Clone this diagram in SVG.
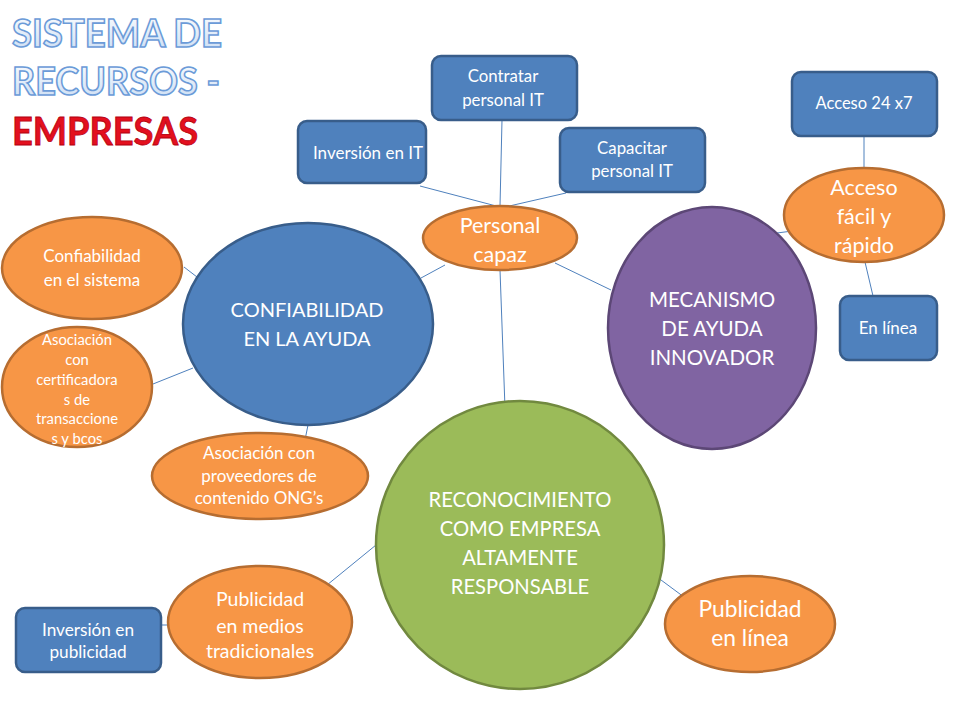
<svg xmlns="http://www.w3.org/2000/svg" width="960" height="720" viewBox="0 0 960 720">
<defs>
<linearGradient id="tg" x1="0" y1="0" x2="0" y2="1">
<stop offset="0" stop-color="#ffffff"/>
<stop offset="1" stop-color="#c9dcf3"/>
</linearGradient>
<style>
text{font-family:Lato,"Open Sans","Liberation Sans",sans-serif;fill:#fff;text-anchor:middle}
.b{fill:#4f81bd;stroke:#385d8a;stroke-width:2.5}
.o{fill:#f79646;stroke:#b66d31;stroke-width:2.5}
.p{fill:#8064a2;stroke:#5c4776;stroke-width:2.5}
.g{fill:#9bbb59;stroke:#71893f;stroke-width:2.5}
.c line{stroke:#4f81bd;stroke-width:1}
.t1{font-family:Lato,"Liberation Sans",sans-serif;font-weight:bold;font-size:38px;text-anchor:start;fill:url(#tg);stroke:#6b9bd8;stroke-width:1.6}
.t2{font-family:Lato,"Liberation Sans",sans-serif;font-weight:bold;font-size:38px;text-anchor:start;fill:#e3101e;stroke:#b50010;stroke-width:0.8}
</style>
</defs>
<rect width="960" height="720" fill="#fff"/>
<g id="title">
<text class="t1" x="12" y="47" textLength="210" lengthAdjust="spacingAndGlyphs">SISTEMA DE</text>
<text class="t1" x="12" y="95" textLength="208" lengthAdjust="spacingAndGlyphs">RECURSOS -</text>
<text class="t2" x="12" y="145" textLength="186" lengthAdjust="spacingAndGlyphs">EMPRESAS</text>
</g>
<g class="c" id="connectors">
<line x1="420" y1="186" x2="500" y2="207"/>
<line x1="502" y1="120" x2="500" y2="206"/>
<line x1="566" y1="193" x2="505" y2="207"/>
<line x1="445" y1="265" x2="421" y2="278"/>
<line x1="555" y1="263" x2="611" y2="290"/>
<line x1="500" y1="270" x2="505" y2="408"/>
<line x1="864" y1="136" x2="864" y2="168"/>
<line x1="777" y1="233" x2="800" y2="230"/>
<line x1="865" y1="262" x2="873" y2="296"/>
<line x1="184" y1="267" x2="197" y2="277"/>
<line x1="153" y1="384" x2="193" y2="368"/>
<line x1="305" y1="440" x2="308" y2="425"/>
<line x1="376" y1="545" x2="327" y2="585"/>
<line x1="168" y1="625" x2="161" y2="625"/>
<line x1="657" y1="577" x2="688" y2="600"/>
</g>
<g id="inversion-it">
<rect class="b" x="298" y="121" width="128" height="62" rx="9"/>
<text x="368" y="159" font-size="17">Inversión en IT</text>
</g>
<g id="contratar">
<rect class="b" x="432" y="56" width="145" height="64" rx="9"/>
<text x="503" y="82" font-size="16.8">Contratar</text>
<text x="503" y="106" font-size="16.8">personal IT</text>
</g>
<g id="capacitar">
<rect class="b" x="560" y="128" width="145" height="64" rx="9"/>
<text x="632" y="154" font-size="16.8">Capacitar</text>
<text x="632" y="177" font-size="16.8">personal IT</text>
</g>
<g id="personal-capaz">
<ellipse class="o" cx="500" cy="238" rx="77" ry="32"/>
<text x="500" y="233" font-size="21.5">Personal</text>
<text x="500" y="262" font-size="21.5">capaz</text>
</g>
<g id="acceso-24x7">
<rect class="b" x="792" y="72" width="145" height="64" rx="9"/>
<text x="864" y="109" font-size="16.5">Acceso 24 x7</text>
</g>
<g id="acceso-facil">
<ellipse class="o" cx="864" cy="215" rx="80" ry="47"/>
<text x="864" y="195" font-size="21.5">Acceso</text>
<text x="864" y="224" font-size="21.5">fácil y</text>
<text x="864" y="253" font-size="21.5">rápido</text>
</g>
<g id="en-linea">
<rect class="b" x="840" y="296" width="97" height="64" rx="9"/>
<text x="888" y="334" font-size="17">En línea</text>
</g>
<g id="mecanismo">
<ellipse class="p" cx="712" cy="328" rx="104" ry="121"/>
<text x="712" y="307" font-size="20.5">MECANISMO</text>
<text x="712" y="336" font-size="20.5">DE AYUDA</text>
<text x="712" y="365" font-size="20.5">INNOVADOR</text>
</g>
<g id="confiabilidad-ayuda">
<ellipse class="b" cx="308" cy="324" rx="125" ry="101"/>
<text x="307" y="317" font-size="20">CONFIABILIDAD</text>
<text x="307" y="346" font-size="20">EN LA AYUDA</text>
</g>
<g id="confiabilidad-sistema">
<ellipse class="o" cx="92" cy="268" rx="90" ry="51"/>
<text x="92" y="262" font-size="17">Confiabilidad</text>
<text x="92" y="286" font-size="17">en el sistema</text>
</g>
<g id="asociacion-certificadoras">
<ellipse class="o" cx="77" cy="387" rx="75" ry="60"/>
<text x="77" y="345" font-size="14.8">Asociación</text>
<text x="77" y="365" font-size="14.8">con</text>
<text x="77" y="385" font-size="14.8">certificadora</text>
<text x="77" y="405" font-size="14.8">s de</text>
<text x="77" y="424" font-size="14.8">transaccione</text>
<text x="77" y="444" font-size="14.8">s y bcos</text>
</g>
<g id="asociacion-proveedores">
<ellipse class="o" cx="260" cy="476" rx="108" ry="43"/>
<text x="259" y="459" font-size="17">Asociación con</text>
<text x="259" y="482" font-size="17">proveedores de</text>
<text x="259" y="504" font-size="17">contenido ONG’s</text>
</g>
<g id="reconocimiento">
<ellipse class="g" cx="520" cy="545" rx="144" ry="144"/>
<text x="520" y="507" font-size="20.2">RECONOCIMIENTO</text>
<text x="520" y="536" font-size="20.2">COMO EMPRESA</text>
<text x="520" y="565" font-size="20.2">ALTAMENTE</text>
<text x="520" y="594" font-size="20.2">RESPONSABLE</text>
</g>
<g id="publicidad-medios">
<ellipse class="o" cx="260" cy="622" rx="92" ry="56"/>
<text x="260" y="606" font-size="19.5">Publicidad</text>
<text x="260" y="633" font-size="19.5">en medios</text>
<text x="260" y="658" font-size="19.5">tradicionales</text>
</g>
<g id="inversion-publicidad">
<rect class="b" x="16" y="608" width="145" height="64" rx="9"/>
<text x="88" y="636" font-size="17.2">Inversión en</text>
<text x="88" y="658" font-size="17.2">publicidad</text>
</g>
<g id="publicidad-linea">
<ellipse class="o" cx="750" cy="624" rx="85" ry="48"/>
<text x="750" y="617" font-size="22.8">Publicidad</text>
<text x="750" y="646" font-size="22.8">en línea</text>
</g>
</svg>
